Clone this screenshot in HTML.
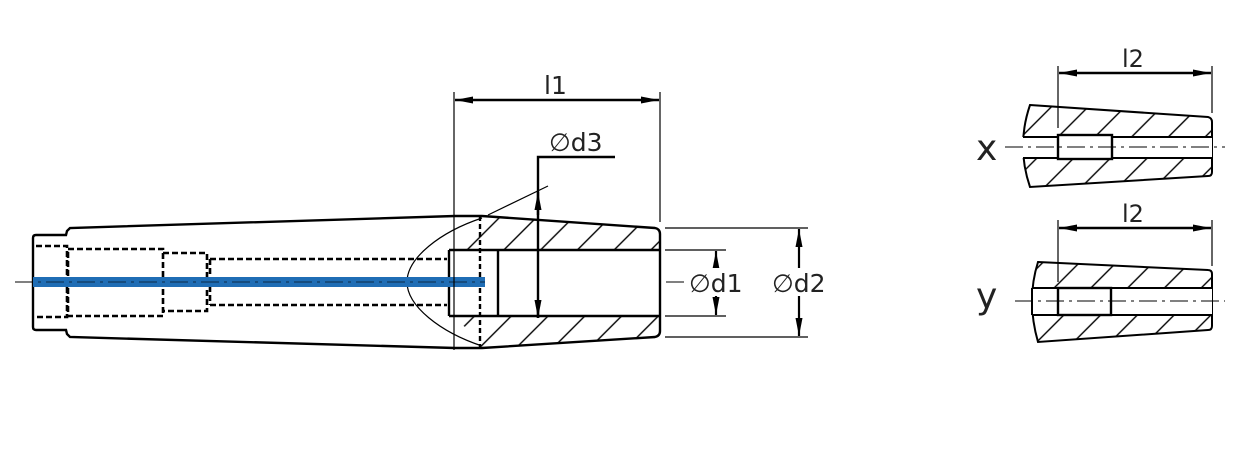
<!DOCTYPE html>
<html><head><meta charset="utf-8"><style>
html,body{margin:0;padding:0;background:#fff;width:1246px;height:455px;overflow:hidden}
text{font-family:"DejaVu Sans","Liberation Sans",sans-serif;fill:#222}
</style></head><body>
<svg width="1246" height="455" viewBox="0 0 1246 455" xmlns="http://www.w3.org/2000/svg">
<defs>
<marker id="a" viewBox="0 0 18 7" refX="18" refY="3.5" markerWidth="18" markerHeight="7" orient="auto-start-reverse" markerUnits="userSpaceOnUse"><path d="M0,0L18,3.5L0,7z" fill="#000"/></marker>
<pattern id="h" patternUnits="userSpaceOnUse" width="26" height="26" patternTransform="rotate(45)"><line x1="13" y1="0" x2="13" y2="26" stroke="#000" stroke-width="1.4"/></pattern>
</defs>
<line x1="15" y1="282" x2="748" y2="282" stroke="#000" stroke-width="1" stroke-dasharray="18,5,3,5"/>
<path d="M482,216 L655,228 L660,232 L660,250 L498,250 L450,250 L480,226 Z" fill="url(#h)"/>
<path d="M482,348 L655,337 L660,333 L660,316 L450,316 L480,338 Z" fill="url(#h)"/>
<rect x="498" y="250" width="162" height="66" fill="#fff"/>
<rect x="450" y="250" width="48" height="66" fill="#fff"/>
<path d="M67,231 L66,235 L36,235 Q33,235 33,238 L33,327 Q33,330 36,330 L66,330 L67,334 L70,337 L455,348 L482,348 L655,337 Q660,336 660,331 L660,234 Q660,229 655,228 L482,216 L455,216 L70,228 Z" fill="none" stroke="#000" stroke-width="2.4"/>
<path d="M482,218 C440,232 407,258 407,282 C407,306 440,332 482,346" fill="none" stroke="#000" stroke-width="1.2"/>
<line x1="488" y1="215" x2="548" y2="186" stroke="#000" stroke-width="1.2"/>
<path d="M449,250 L660,250 M449,316 L660,316 M449,250 L449,316 M498,250 L498,316" fill="none" stroke="#000" stroke-width="2.4"/>
<line x1="480" y1="216" x2="480" y2="348" stroke="#000" stroke-width="2.4" stroke-dasharray="5,3"/>
<g fill="none" stroke="#000" stroke-width="2.6" stroke-dasharray="6,3">
<path d="M36,246 L67,246 L67,317 L36,317"/>
<rect x="68" y="249" width="95" height="67"/>
<path d="M163,253 L207,253 L207,311 L163,311"/>
<path d="M210,259 L447,259 M210,305 L447,305 M210,259 L210,305"/>
</g>
<line x1="33" y1="282" x2="485" y2="282" stroke="#1f6db5" stroke-width="10"/>
<line x1="15" y1="282" x2="485" y2="282" stroke="#000" stroke-width="1" stroke-dasharray="18,5,3,5" opacity="0.6"/>
<g stroke="#000" stroke-width="1.2">
<line x1="454" y1="92" x2="454" y2="350"/>
<line x1="660" y1="92" x2="660" y2="222"/>
<line x1="665" y1="228" x2="808" y2="228"/>
<line x1="665" y1="337" x2="808" y2="337"/>
<line x1="665" y1="250" x2="726" y2="250"/>
<line x1="665" y1="316" x2="726" y2="316"/>
</g>
<line x1="455" y1="100" x2="659" y2="100" stroke="#000" stroke-width="2.4" marker-start="url(#a)" marker-end="url(#a)"/>
<text x="544" y="94" font-size="25">l1</text>
<path d="M615,157 L538,157 L538,318" fill="none" stroke="#000" stroke-width="2.4"/>
<line x1="538" y1="215" x2="538" y2="192" stroke="#000" stroke-width="2.4" marker-end="url(#a)"/>
<line x1="538" y1="300" x2="538" y2="318" stroke="#000" stroke-width="2.4" marker-end="url(#a)"/>
<text x="549" y="151" font-size="25">∅d3</text>
<line x1="716" y1="270" x2="716" y2="251" stroke="#000" stroke-width="2.2" marker-end="url(#a)"/>
<line x1="716" y1="296" x2="716" y2="315" stroke="#000" stroke-width="2.2" marker-end="url(#a)"/>
<rect x="688" y="268" width="62" height="28" fill="#fff"/>
<text x="689" y="292" font-size="25">∅d1</text>
<line x1="799" y1="229" x2="799" y2="336" stroke="#000" stroke-width="2.2" marker-start="url(#a)" marker-end="url(#a)"/>
<rect x="771" y="268" width="62" height="28" fill="#fff"/>
<text x="772" y="292" font-size="25">∅d2</text>

<path d="M1030,105 L1208,117 Q1212,118 1212,122 L1212,172 Q1212,176 1208,176 L1030,187 Q1016,146 1030,105 Z" fill="url(#h)" stroke="#000" stroke-width="2"/>
<rect x="1022" y="137" width="190" height="21" fill="#fff"/>
<path d="M1023,137 L1212,137 M1023,158 L1212,158" stroke="#000" stroke-width="2"/>
<rect x="1058" y="135" width="54" height="24" fill="#fff" stroke="#000" stroke-width="2.4"/>
<line x1="1005" y1="147" x2="1225" y2="147" stroke="#000" stroke-width="1" stroke-dasharray="18,5,3,5"/>
<g stroke="#000" stroke-width="1.2"><line x1="1058" y1="66" x2="1058" y2="128"/><line x1="1212" y1="66" x2="1212" y2="113"/><line x1="1058" y1="220" x2="1058" y2="282"/><line x1="1212" y1="220" x2="1212" y2="266"/></g>
<line x1="1059" y1="73" x2="1211" y2="73" stroke="#000" stroke-width="2.4" marker-start="url(#a)" marker-end="url(#a)"/>
<text x="1122" y="67" font-size="24">l2</text>
<text x="976" y="160" font-size="36">x</text>
<path d="M1038,262 L1208,270 Q1212,270 1212,274 L1212,326 Q1212,330 1208,330 L1038,342 Q1026,300 1038,262 Z" fill="url(#h)" stroke="#000" stroke-width="2"/>
<rect x="1030" y="288" width="182" height="27" fill="#fff"/>
<path d="M1032,288 L1212,288 M1032,315 L1212,315 M1032,288 L1032,315" stroke="#000" stroke-width="2"/>
<rect x="1058" y="288" width="53" height="27" fill="none" stroke="#000" stroke-width="2.4"/>
<line x1="1015" y1="301" x2="1225" y2="301" stroke="#000" stroke-width="1" stroke-dasharray="18,5,3,5"/>
<line x1="1059" y1="228" x2="1211" y2="228" stroke="#000" stroke-width="2.4" marker-start="url(#a)" marker-end="url(#a)"/>
<text x="1122" y="222" font-size="24">l2</text>
<text x="976" y="308" font-size="36">y</text>
</svg>
</body></html>
